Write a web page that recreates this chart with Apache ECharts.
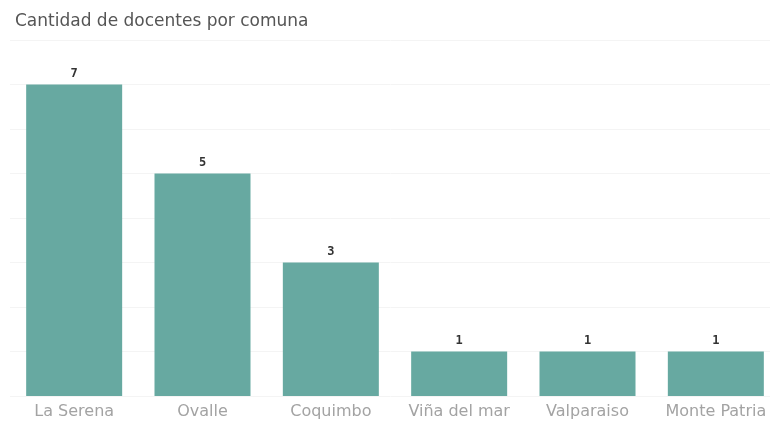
<!DOCTYPE html>
<html><head><meta charset="utf-8">
<script src="https://cdn.jsdelivr.net/npm/echarts@6/dist/echarts.min.js"></script>
<style>html,body{margin:0;padding:0;background:#fff}#c{width:770px;height:424px}</style>
</head><body><div id="c"></div>
<script>
const categories = ['La Serena', 'Ovalle', 'Coquimbo', 'Viña del mar', 'Valparaiso', 'Monte Patria'];
const values = [7, 5, 3, 1, 1, 1];
const titleText = 'Cantidad de docentes por comuna';

const chart = echarts.init(document.getElementById('c'));
chart.setOption({
  animation: false,
  title: {
    text: titleText, left: 10, top: 8,
    textStyle: { fontFamily: 'DejaVu Sans', fontSize: 17, fontWeight: 'normal', color: '#555' }
  },
  grid: { left: 10, top: 40, right: -10, bottom: 28, containLabel: false, outerBoundsMode: 'none' },
  xAxis: {
    type: 'category', data: categories,
    axisLine: { show: false }, axisTick: { show: false },
    axisLabel: { interval: 0, hideOverlap: false, color: '#a3a3a3', fontSize: 16, fontFamily: 'DejaVu Sans', margin: 8 }
  },
  yAxis: {
    type: 'value', min: 0, max: 8, interval: 1,
    axisLabel: { show: false }, axisLine: { show: false }, axisTick: { show: false },
    splitLine: { lineStyle: { color: '#f4f4f4', width: 1 } }
  },
  series: [{
    type: 'bar', data: values, barWidth: 96,
    itemStyle: { color: '#67a9a1' },
    label: { show: true, position: 'top', distance: 5, color: '#333', fontSize: 12, fontWeight: 'bold', fontFamily: 'DejaVu Sans Mono' }
  }]
});
</script></body></html>
